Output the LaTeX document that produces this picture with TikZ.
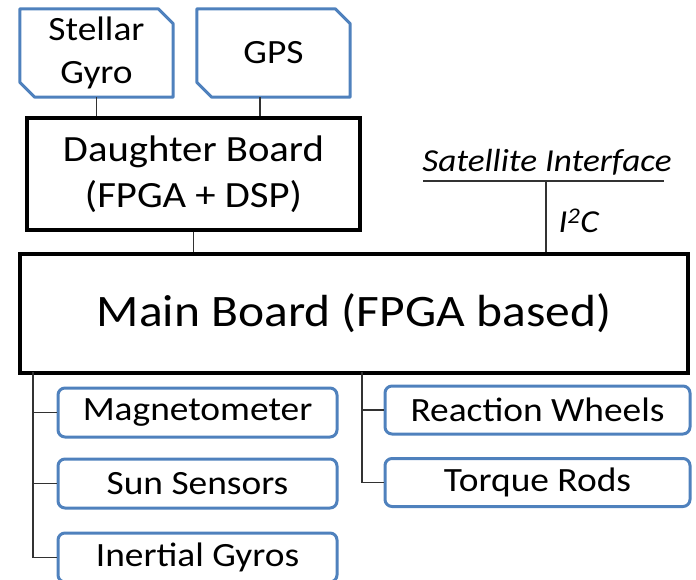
\documentclass[tikz,border=0pt]{standalone}
\usepackage{fontspec}
\setmainfont{Carlito}[FakeStretch=1.1]
\begin{document}
\begin{tikzpicture}[x=1pt,y=-1pt,
  blueline/.style={draw=boxblue,line width=3pt,line join=round},
  snipbox/.style={inner sep=0pt,minimum width=153pt,minimum height=88pt,
    align=center,font=\fontsize{34}{36}\selectfont},
  boardbox/.style={draw=black,line width=4pt,inner sep=0pt,align=center},
  sensor/.style={blueline,rounded corners=7pt,inner sep=0pt,
    minimum height=49pt,font=\fontsize{34}{36}\selectfont},
  wire/.style={draw=wiregray,line width=1.5pt}]
\definecolor{boxblue}{RGB}{79,129,189}
\definecolor{wiregray}{RGB}{50,50,50}
\useasboundingbox (0,0) rectangle (696,579);
\begin{scope}
\clip (0,0) rectangle (696,579);

% top sensors with snipped corners
\node[snipbox] (stellar) at (96.5,53) {Stellar\\[7pt]Gyro};
\node[snipbox] (gps) at (273.5,53) {GPS};
\foreach \n in {stellar,gps}{
  \draw[blueline] (\n.north west) -- ([xshift=-15pt]\n.north east)
    -- ([yshift=-15pt]\n.north east) -- (\n.south east)
    -- ([xshift=15pt]\n.south west) -- ([yshift=15pt]\n.south west) -- cycle;
}

% boards
\node[boardbox,minimum width=333pt,minimum height=112pt,
  font=\fontsize{37}{46}\selectfont] (daughter) at (193.5,174)
  {Daughter Board\\(FPGA + DSP)};
\node[boardbox,minimum width=668pt,minimum height=119pt,
  font=\fontsize{45}{50}\selectfont] (main) at (354,313)
  {Main Board (FPGA based)};

% satellite interface
\node[font=\fontsize{32}{36}\selectfont\itshape] (sat) at (547,162) {Satellite Interface};
\coordinate (busL) at (423,181);
\coordinate (busR) at (664,181);
\coordinate (tap) at (546,181);
\draw[wire] (busL) -- (busR);
\draw[wire] (tap) -- (tap |- main.north);
\node[font=\fontsize{32}{36}\selectfont\itshape,anchor=west] (i2c) at (555,221) {I\textsuperscript{2}C};

% sensors and actuators
\node[sensor,minimum width=279pt] (mag) at (197.5,412.5) {Magnetometer};
\node[sensor,minimum width=279pt] (sun) at (197.5,483.5) {Sun Sensors};
\node[sensor,minimum width=279pt] (inert) at (197.5,557.5) {Inertial Gyros};
\node[sensor,minimum width=305pt,minimum height=48pt] (rw) at (537.5,410) {Reaction Wheels};
\node[sensor,minimum width=305pt,minimum height=48pt] (tr) at (537.5,482.5) {Torque Rods};

% connectors
\draw[wire] (stellar.south) -- (stellar.south |- daughter.north);
\coordinate (gpsdrop) at (260,97);
\draw[wire] (gpsdrop) -- (gpsdrop |- daughter.north);
\draw[wire] (daughter.south) -- (daughter.south |- main.north);

\coordinate (ltrunk) at (33,372);
\draw[wire] (ltrunk) |- (inert.west);
\draw[wire] (ltrunk |- mag.west) -- (mag.west);
\draw[wire] (ltrunk |- sun.west) -- (sun.west);

\coordinate (rtrunk) at (362,372);
\draw[wire] (rtrunk) |- (tr.west);
\draw[wire] (rtrunk |- rw.west) -- (rw.west);
\end{scope}
\end{tikzpicture}
\end{document}
